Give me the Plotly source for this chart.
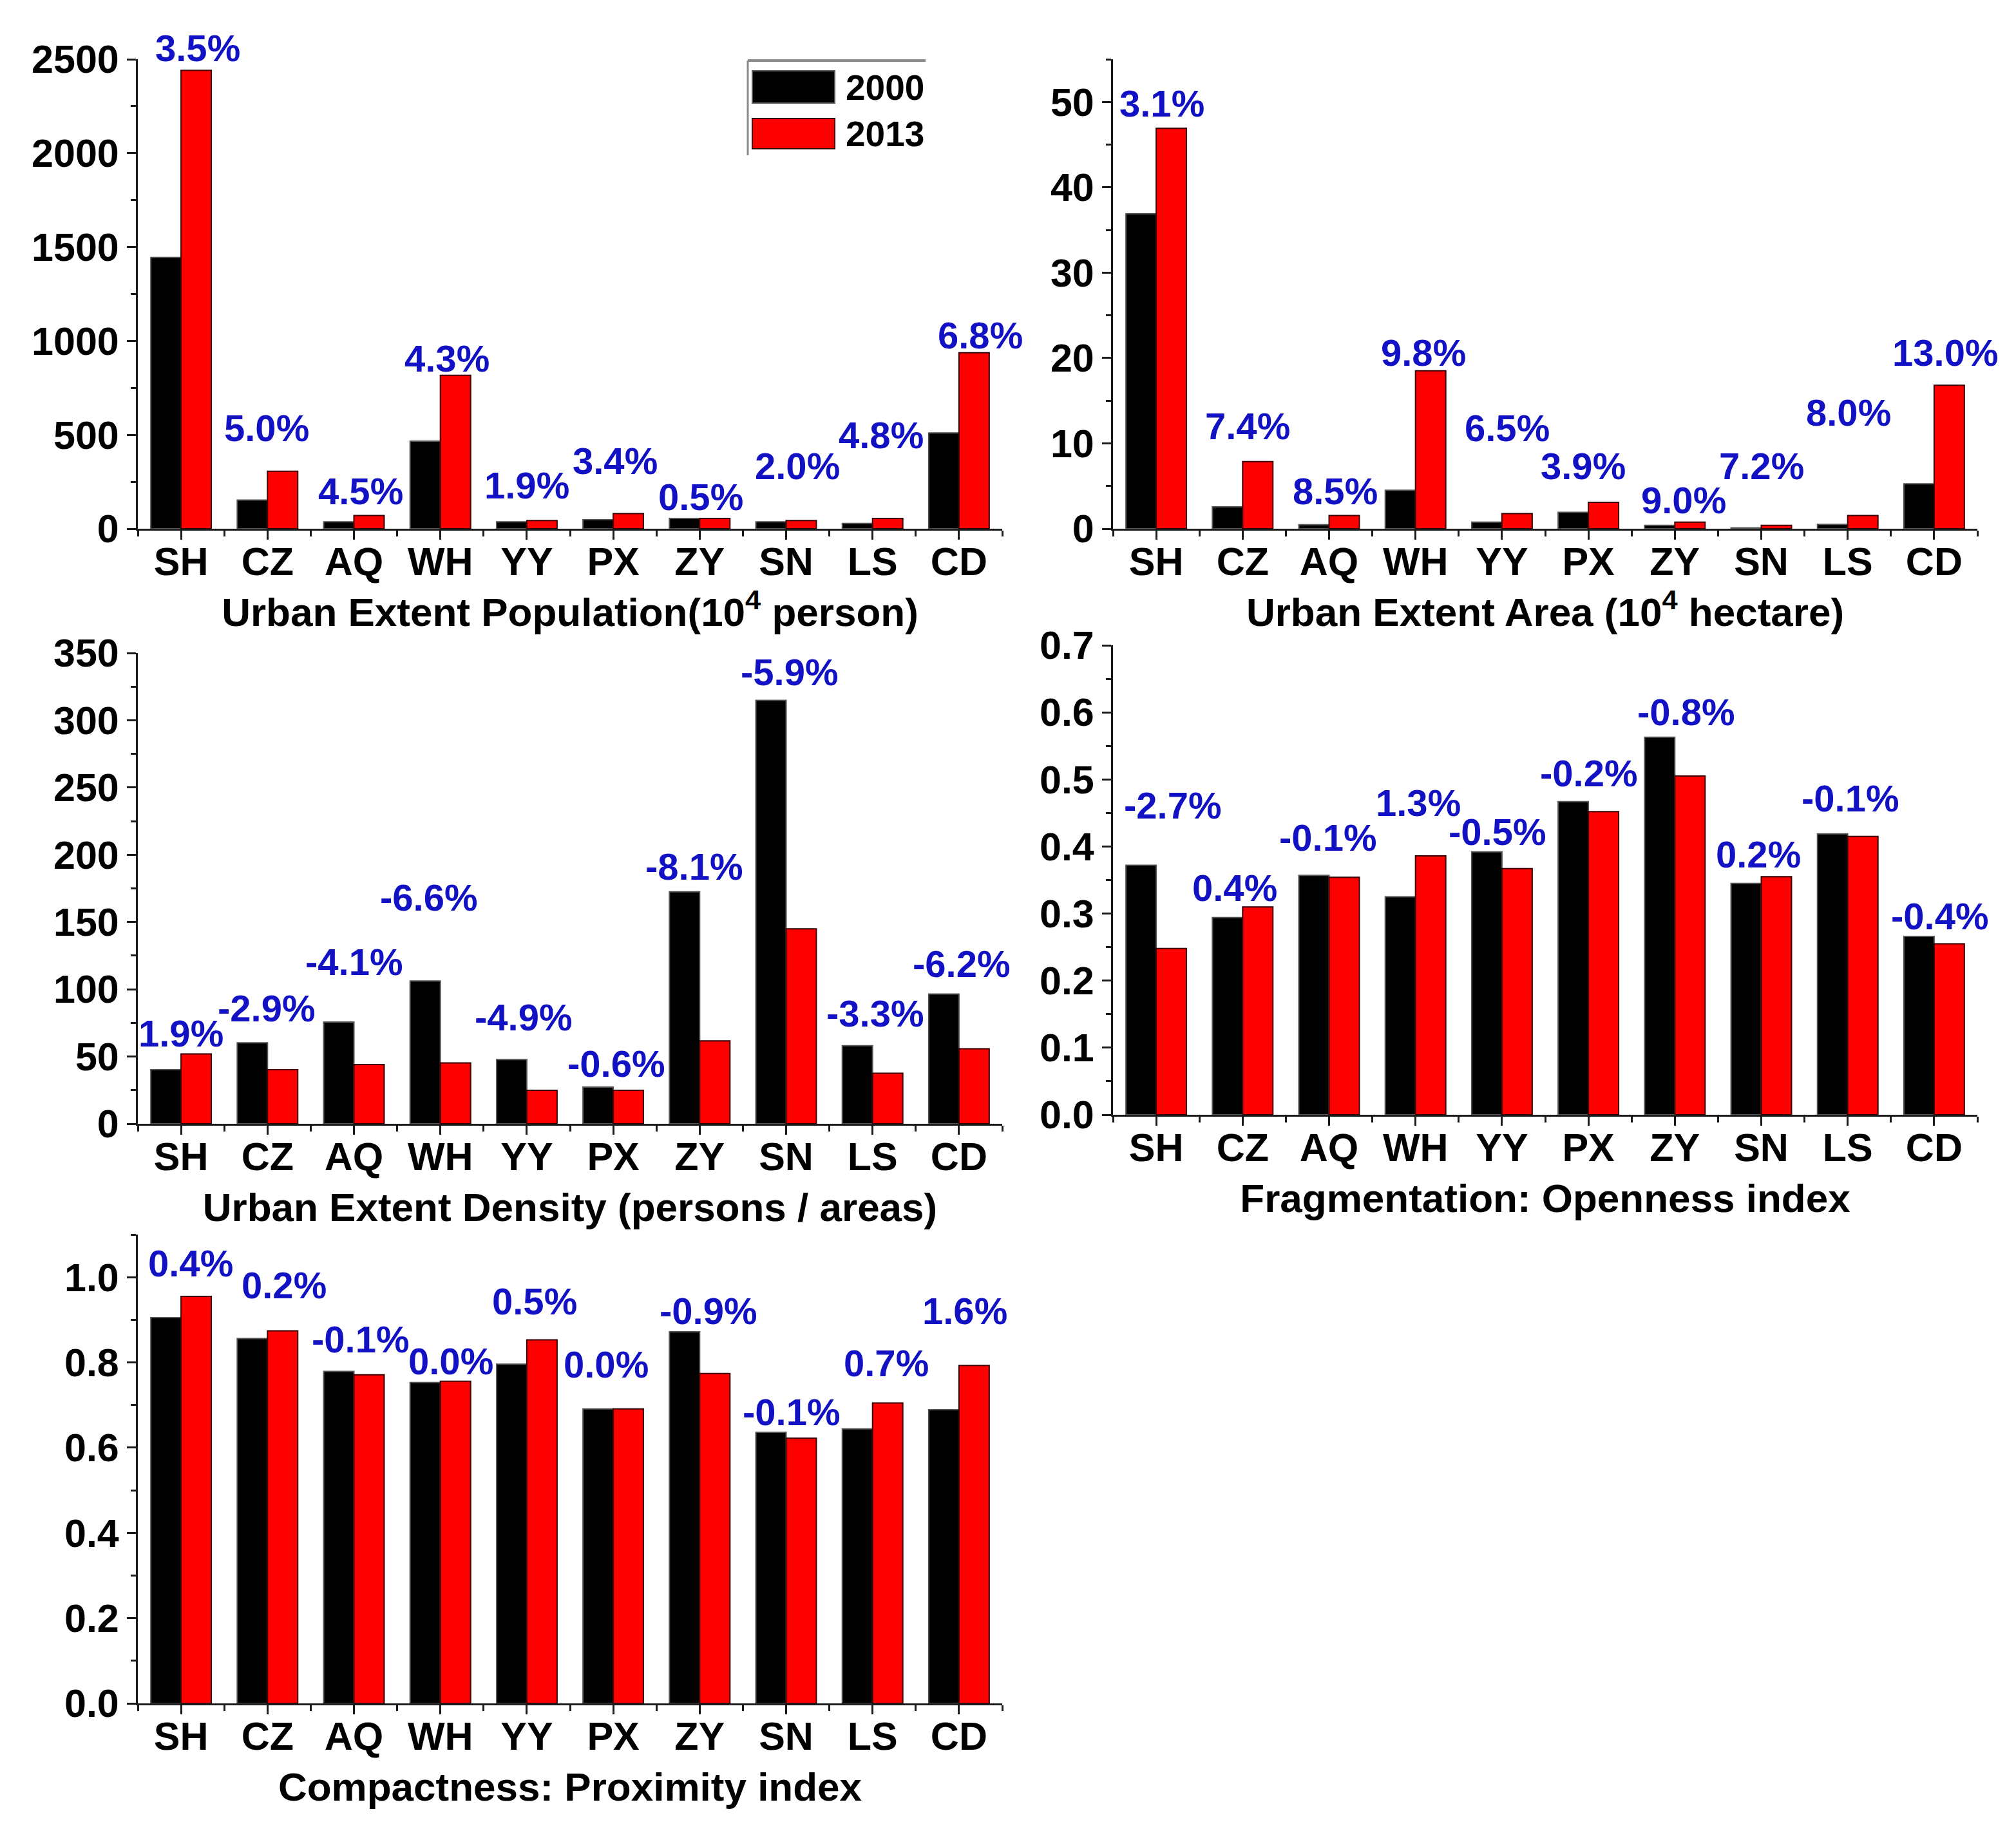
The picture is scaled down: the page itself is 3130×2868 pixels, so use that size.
import plotly.graph_objects as go

CITIES = ["SH", "CZ", "AQ", "WH", "YY", "PX", "ZY", "SN", "LS", "CD"]
YEARS = ["2000", "2013"]

# Urban extent population (10^4 person)
POP_2000 = [1445, 153, 37, 466, 37, 48, 55, 37, 28, 510]
POP_2013 = [2441, 306, 70, 817, 44, 81, 55, 44, 55, 937]
POP_RATE = ["3.5%", "5.0%", "4.5%", "4.3%", "1.9%", "3.4%", "0.5%", "2.0%", "4.8%", "6.8%"]

# Urban extent area (10^4 hectare)
AREA_2000 = [36.9, 2.56, 0.48, 4.5, 0.77, 1.93, 0.39, 0.1, 0.5, 5.26]
AREA_2013 = [46.9, 7.86, 1.54, 18.5, 1.78, 3.09, 0.77, 0.39, 1.54, 16.8]
AREA_RATE = ["3.1%", "7.4%", "8.5%", "9.8%", "6.5%", "3.9%", "9.0%", "7.2%", "8.0%", "13.0%"]

# Urban extent density (persons / areas)
DENS_2000 = [40.2, 60.2, 75.7, 106.2, 47.8, 27.3, 172.5, 314.8, 58.1, 96.5]
DENS_2013 = [51.9, 40.2, 44.0, 45.2, 24.9, 24.9, 61.6, 145.0, 37.6, 55.8]
DENS_RATE = ["1.9%", "-2.9%", "-4.1%", "-6.6%", "-4.9%", "-0.6%", "-8.1%", "-5.9%", "-3.3%", "-6.2%"]

# Fragmentation: openness index
OPEN_2000 = [0.372, 0.294, 0.357, 0.325, 0.392, 0.467, 0.563, 0.345, 0.419, 0.266]
OPEN_2013 = [0.248, 0.310, 0.354, 0.386, 0.367, 0.452, 0.505, 0.355, 0.415, 0.255]
OPEN_RATE = ["-2.7%", "0.4%", "-0.1%", "1.3%", "-0.5%", "-0.2%", "-0.8%", "0.2%", "-0.1%", "-0.4%"]

# Compactness: proximity index
PROX_2000 = [0.905, 0.856, 0.779, 0.753, 0.796, 0.691, 0.872, 0.636, 0.644, 0.689]
PROX_2013 = [0.955, 0.874, 0.771, 0.756, 0.853, 0.691, 0.774, 0.622, 0.705, 0.793]
PROX_RATE = ["0.4%", "0.2%", "-0.1%", "0.0%", "0.5%", "0.0%", "-0.9%", "-0.1%", "0.7%", "1.6%"]

W, H = 3130, 2868
# the page body adds a small margin, so pixel positions are pulled back by it
PAGE_DX, PAGE_DY = 8, 10
FONT = "Liberation Sans, Arial, sans-serif"
BLUE = "#1212c4"
AXIS = "#1a1a1a"


def px(x):
	return (x - PAGE_DX) / W


def py(y):
	return 1 - (y - PAGE_DY) / H


# per panel: plot box in pixels (left, right, top, bottom), axis set-up and
# where the growth-rate labels sit (x offset from the category, y in data units)
panels = [
	dict(v0=POP_2000, v1=POP_2013, rate=POP_RATE,
		title="Urban Extent Population(10<sup>4</sup> person)",
		box=(214, 1556, 94, 823), yrange=[0, 2500], dtick=500, fmt="",
		lab_dx=[0.19, -0.01, 0.08, 0.08, 0.0, 0.02, 0.01, 0.13, 0.1, 0.25],
		lab_y=[2561, 536, 201, 908, 230, 361, 171, 335, 499, 1029]),
	dict(v0=AREA_2000, v1=AREA_2013, rate=AREA_RATE,
		title="Urban Extent Area (10<sup>4</sup> hectare)",
		box=(1728, 3070, 94, 823), yrange=[0, 55], dtick=10, fmt="",
		lab_dx=[0.07, 0.06, 0.07, 0.09, 0.06, -0.06, 0.1, 0.0, 0.01, 0.13],
		lab_y=[49.8, 12.05, 4.44, 20.6, 11.8, 7.33, 3.38, 7.33, 13.6, 20.6]),
	dict(v0=DENS_2000, v1=DENS_2013, rate=DENS_RATE,
		title="Urban Extent Density (persons / areas)",
		box=(214, 1556, 1016, 1747), yrange=[0, 350], dtick=50, fmt="",
		lab_dx=[0.0, -0.01, 0.0, -0.13, -0.04, 0.04, -0.06, 0.04, 0.03, 0.03],
		lab_y=[67.5, 86, 120.3, 168.1, 79.2, 44.6, 191.3, 336, 82.2, 118.8]),
	dict(v0=OPEN_2000, v1=OPEN_2013, rate=OPEN_RATE,
		title="Fragmentation: Openness index",
		box=(1728, 3070, 1004, 1733), yrange=[0, 0.7], dtick=0.1, fmt=".1f",
		lab_dx=[0.19, -0.09, -0.01, 0.03, -0.05, 0.01, 0.13, -0.03, 0.03, 0.07],
		lab_y=[0.461, 0.338, 0.413, 0.465, 0.422, 0.509, 0.601, 0.388, 0.472, 0.296]),
	dict(v0=PROX_2000, v1=PROX_2013, rate=PROX_RATE,
		title="Compactness: Proximity index",
		box=(214, 1556, 1919, 2647), yrange=[0, 1.1], dtick=0.2, fmt=".1f",
		lab_dx=[0.11, 0.19, 0.08, 0.12, 0.09, -0.08, 0.10, 0.06, 0.16, 0.07],
		lab_y=[1.033, 0.981, 0.855, 0.803, 0.943, 0.796, 0.921, 0.684, 0.798, 0.921]),
]

fig = go.Figure()
layout = dict(
	width=W, height=H,
	template="none",
	paper_bgcolor="white", plot_bgcolor="white",
	margin=dict(l=0, r=0, t=0, b=0),
	barmode="group", bargap=0.3, bargroupgap=0,
	showlegend=False,
	font=dict(family=FONT, color="black"),
)
annotations = []
positions = list(range(len(CITIES)))

for i, p in enumerate(panels, start=1):
	suffix = "" if i == 1 else str(i)
	xref, yref = "x" + suffix, "y" + suffix
	left, right, top, bottom = p["box"]

	for year, values, color, edge in [
		(YEARS[0], p["v0"], "#000000", "#555555"),
		(YEARS[1], p["v1"], "#ff0000", "#3a0000"),
	]:
		fig.add_trace(go.Bar(
			x = positions,
			y = values,
			name = year,
			xaxis = xref,
			yaxis = yref,
			offsetgroup = year,
			marker = dict(color = color, line = dict(color = edge, width = 2)),
		))

	layout["xaxis" + suffix] = dict(
		domain=[px(left), px(right)], anchor=yref,
		range=[-0.5, 9.5], automargin=False,
		tickmode="array", tickvals=positions, ticktext=CITIES,
		ticks="outside", ticklen=14, tickwidth=3, tickcolor=AXIS,
		ticklabelstandoff=-18,
		minor=dict(tickmode="linear", tick0=-0.5, dtick=1, ticks="outside",
			ticklen=9, tickwidth=2.5, tickcolor=AXIS, showgrid=False),
		showline=True, linewidth=3, linecolor=AXIS,
		showgrid=False, zeroline=False,
		tickfont=dict(family=FONT, size=61, weight="bold"),
		title=dict(text=p["title"], standoff=24,
			font=dict(family=FONT, size=62, weight="bold")),
	)
	layout["yaxis" + suffix] = dict(
		domain=[py(bottom), py(top)], anchor=xref,
		range=p["yrange"], automargin=False,
		tickmode="linear", tick0=0, dtick=p["dtick"], tickformat=p["fmt"],
		ticks="outside", ticklen=14, tickwidth=3, tickcolor=AXIS,
		minor=dict(dtick=p["dtick"] / 2, ticks="outside", ticklen=8,
			tickwidth=2.5, tickcolor=AXIS, showgrid=False),
		showline=True, linewidth=3, linecolor=AXIS,
		showgrid=False, zeroline=False,
		tickfont=dict(family=FONT, size=61, weight="bold"),
	)

	# labels above the top of the range are pinned to it and lifted in pixels,
	# otherwise plotly would hide them
	y_top = p["yrange"][1]
	px_per_unit = (bottom - top) / (p["yrange"][1] - p["yrange"][0])
	for j, text in enumerate(p["rate"]):
		y = p["lab_y"][j]
		lift = 0
		if y > y_top:
			lift = (y - y_top) * px_per_unit
			y = y_top
		annotations.append(dict(
			text=text, x=positions[j] + p["lab_dx"][j], y=y, yshift=lift,
			xref=xref, yref=yref, showarrow=False,
			font=dict(family=FONT, size=58, color=BLUE, weight="bold"),
		))

# legend box of the first panel (Origin style, top/left frame only)
shapes = [
	dict(type="line", xref="paper", yref="paper", x0=px(1161), x1=px(1437),
		y0=py(96), y1=py(96), line=dict(color="#8a8a8a", width=4)),
	dict(type="line", xref="paper", yref="paper", x0=px(1161), x1=px(1161),
		y0=py(96), y1=py(243), line=dict(color="#8a8a8a", width=3)),
	dict(type="rect", xref="paper", yref="paper", x0=px(1168), x1=px(1296),
		y0=py(162), y1=py(112), fillcolor="#000000", line=dict(color="#555555", width=2)),
	dict(type="rect", xref="paper", yref="paper", x0=px(1168), x1=px(1296),
		y0=py(233), y1=py(186), fillcolor="#ff0000", line=dict(color="#3a0000", width=2)),
]
for year, yc in [(YEARS[0], 138), (YEARS[1], 210)]:
	annotations.append(dict(
		text=year, x=px(1311), y=py(yc), xref="paper", yref="paper",
		xanchor="left", yanchor="middle", showarrow=False,
		font=dict(family=FONT, size=55, color="black", weight="bold"),
	))

layout["annotations"] = annotations
layout["shapes"] = shapes
fig.update_layout(**layout)

fig.write_html("out.html")
